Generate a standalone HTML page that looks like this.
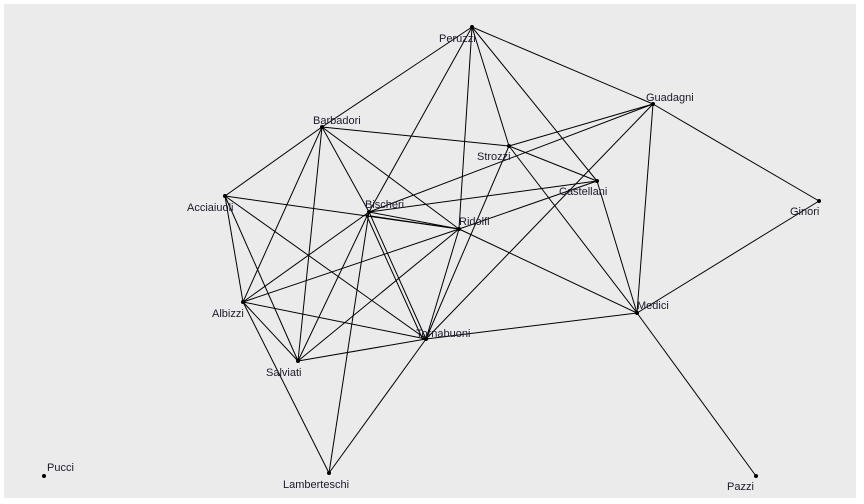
<!DOCTYPE html>
<html><head><style>
html,body{margin:0;padding:0;background:#fff;}
svg{display:block;}
text{font-family:"Liberation Sans",sans-serif;font-size:11px;fill:#1a1a2a;}
</style></head><body>
<svg width="864" height="504" xmlns="http://www.w3.org/2000/svg">
<rect x="4" y="4" width="852" height="494" fill="#ebebeb"/>
<g stroke="#000" stroke-width="1" fill="none">
<line x1="472" y1="27" x2="322" y2="127"/>
<line x1="472" y1="27" x2="369" y2="212"/>
<line x1="472" y1="27" x2="459" y2="229"/>
<line x1="472" y1="27" x2="509" y2="146"/>
<line x1="472" y1="27" x2="597" y2="181"/>
<line x1="472" y1="27" x2="653" y2="104"/>
<line x1="653" y1="104" x2="819" y2="201"/>
<line x1="653" y1="104" x2="509" y2="146"/>
<line x1="653" y1="104" x2="369" y2="212"/>
<line x1="653" y1="104" x2="426" y2="339"/>
<line x1="653" y1="104" x2="637" y2="313"/>
<line x1="819" y1="201" x2="637" y2="313"/>
<line x1="509" y1="146" x2="322" y2="127"/>
<line x1="509" y1="146" x2="597" y2="181"/>
<line x1="509" y1="146" x2="637" y2="313"/>
<line x1="509" y1="146" x2="426" y2="339"/>
<line x1="597" y1="181" x2="637" y2="313"/>
<line x1="597" y1="181" x2="459" y2="229"/>
<line x1="597" y1="181" x2="369" y2="212"/>
<line x1="459" y1="229" x2="637" y2="313"/>
<line x1="459" y1="229" x2="369" y2="212"/>
<line x1="459" y1="229" x2="371" y2="216"/>
<line x1="459" y1="229" x2="225" y2="196"/>
<line x1="459" y1="229" x2="243" y2="302"/>
<line x1="459" y1="229" x2="298" y2="361"/>
<line x1="459" y1="229" x2="426" y2="339"/>
<line x1="459" y1="229" x2="322" y2="127"/>
<line x1="637" y1="313" x2="756" y2="476"/>
<line x1="637" y1="313" x2="426" y2="339"/>
<line x1="322" y1="127" x2="225" y2="196"/>
<line x1="322" y1="127" x2="369" y2="212"/>
<line x1="322" y1="127" x2="243" y2="302"/>
<line x1="322" y1="127" x2="298" y2="361"/>
<line x1="225" y1="196" x2="243" y2="302"/>
<line x1="225" y1="196" x2="298" y2="361"/>
<line x1="225" y1="196" x2="426" y2="339"/>
<line x1="369" y1="212" x2="426" y2="339"/>
<line x1="366" y1="214" x2="423" y2="340"/>
<line x1="369" y1="212" x2="243" y2="302"/>
<line x1="369" y1="212" x2="298" y2="361"/>
<line x1="369" y1="212" x2="329" y2="473"/>
<line x1="243" y1="302" x2="426" y2="339"/>
<line x1="243" y1="302" x2="298" y2="361"/>
<line x1="243" y1="302" x2="329" y2="473"/>
<line x1="298" y1="361" x2="426" y2="339"/>
<line x1="426" y1="339" x2="329" y2="473"/>
</g>
<g fill="#000">
<circle cx="472" cy="27" r="2"/><circle cx="653" cy="104" r="2"/><circle cx="509" cy="146" r="2"/>
<circle cx="597" cy="181" r="2"/><circle cx="819" cy="201" r="2"/><circle cx="459" cy="229" r="2"/>
<circle cx="637" cy="313" r="2"/><circle cx="322" cy="127" r="2"/><circle cx="225" cy="196" r="2"/>
<circle cx="369" cy="212" r="2"/><circle cx="243" cy="302" r="2"/><circle cx="426" cy="339" r="2"/>
<circle cx="298" cy="361" r="2"/><circle cx="329" cy="473" r="2"/><circle cx="44" cy="476" r="2"/>
<circle cx="756" cy="476" r="2"/>
</g>
<text x="439" y="42">Peruzzi</text>
<text x="646" y="101">Guadagni</text>
<text x="477" y="160">Strozzi</text>
<text x="559" y="195">Castellani</text>
<text x="790" y="215">Ginori</text>
<text x="459" y="225">Ridolfi</text>
<text x="637" y="309">Medici</text>
<text x="313" y="124">Barbadori</text>
<text x="187" y="211">Acciaiuoli</text>
<text x="365" y="208">Bischeri</text>
<text x="212" y="317">Albizzi</text>
<text x="416" y="337">Tornabuoni</text>
<text x="266" y="376">Salviati</text>
<text x="283" y="488">Lamberteschi</text>
<text x="47" y="471">Pucci</text>
<text x="727" y="490">Pazzi</text>
</svg>
</body></html>
